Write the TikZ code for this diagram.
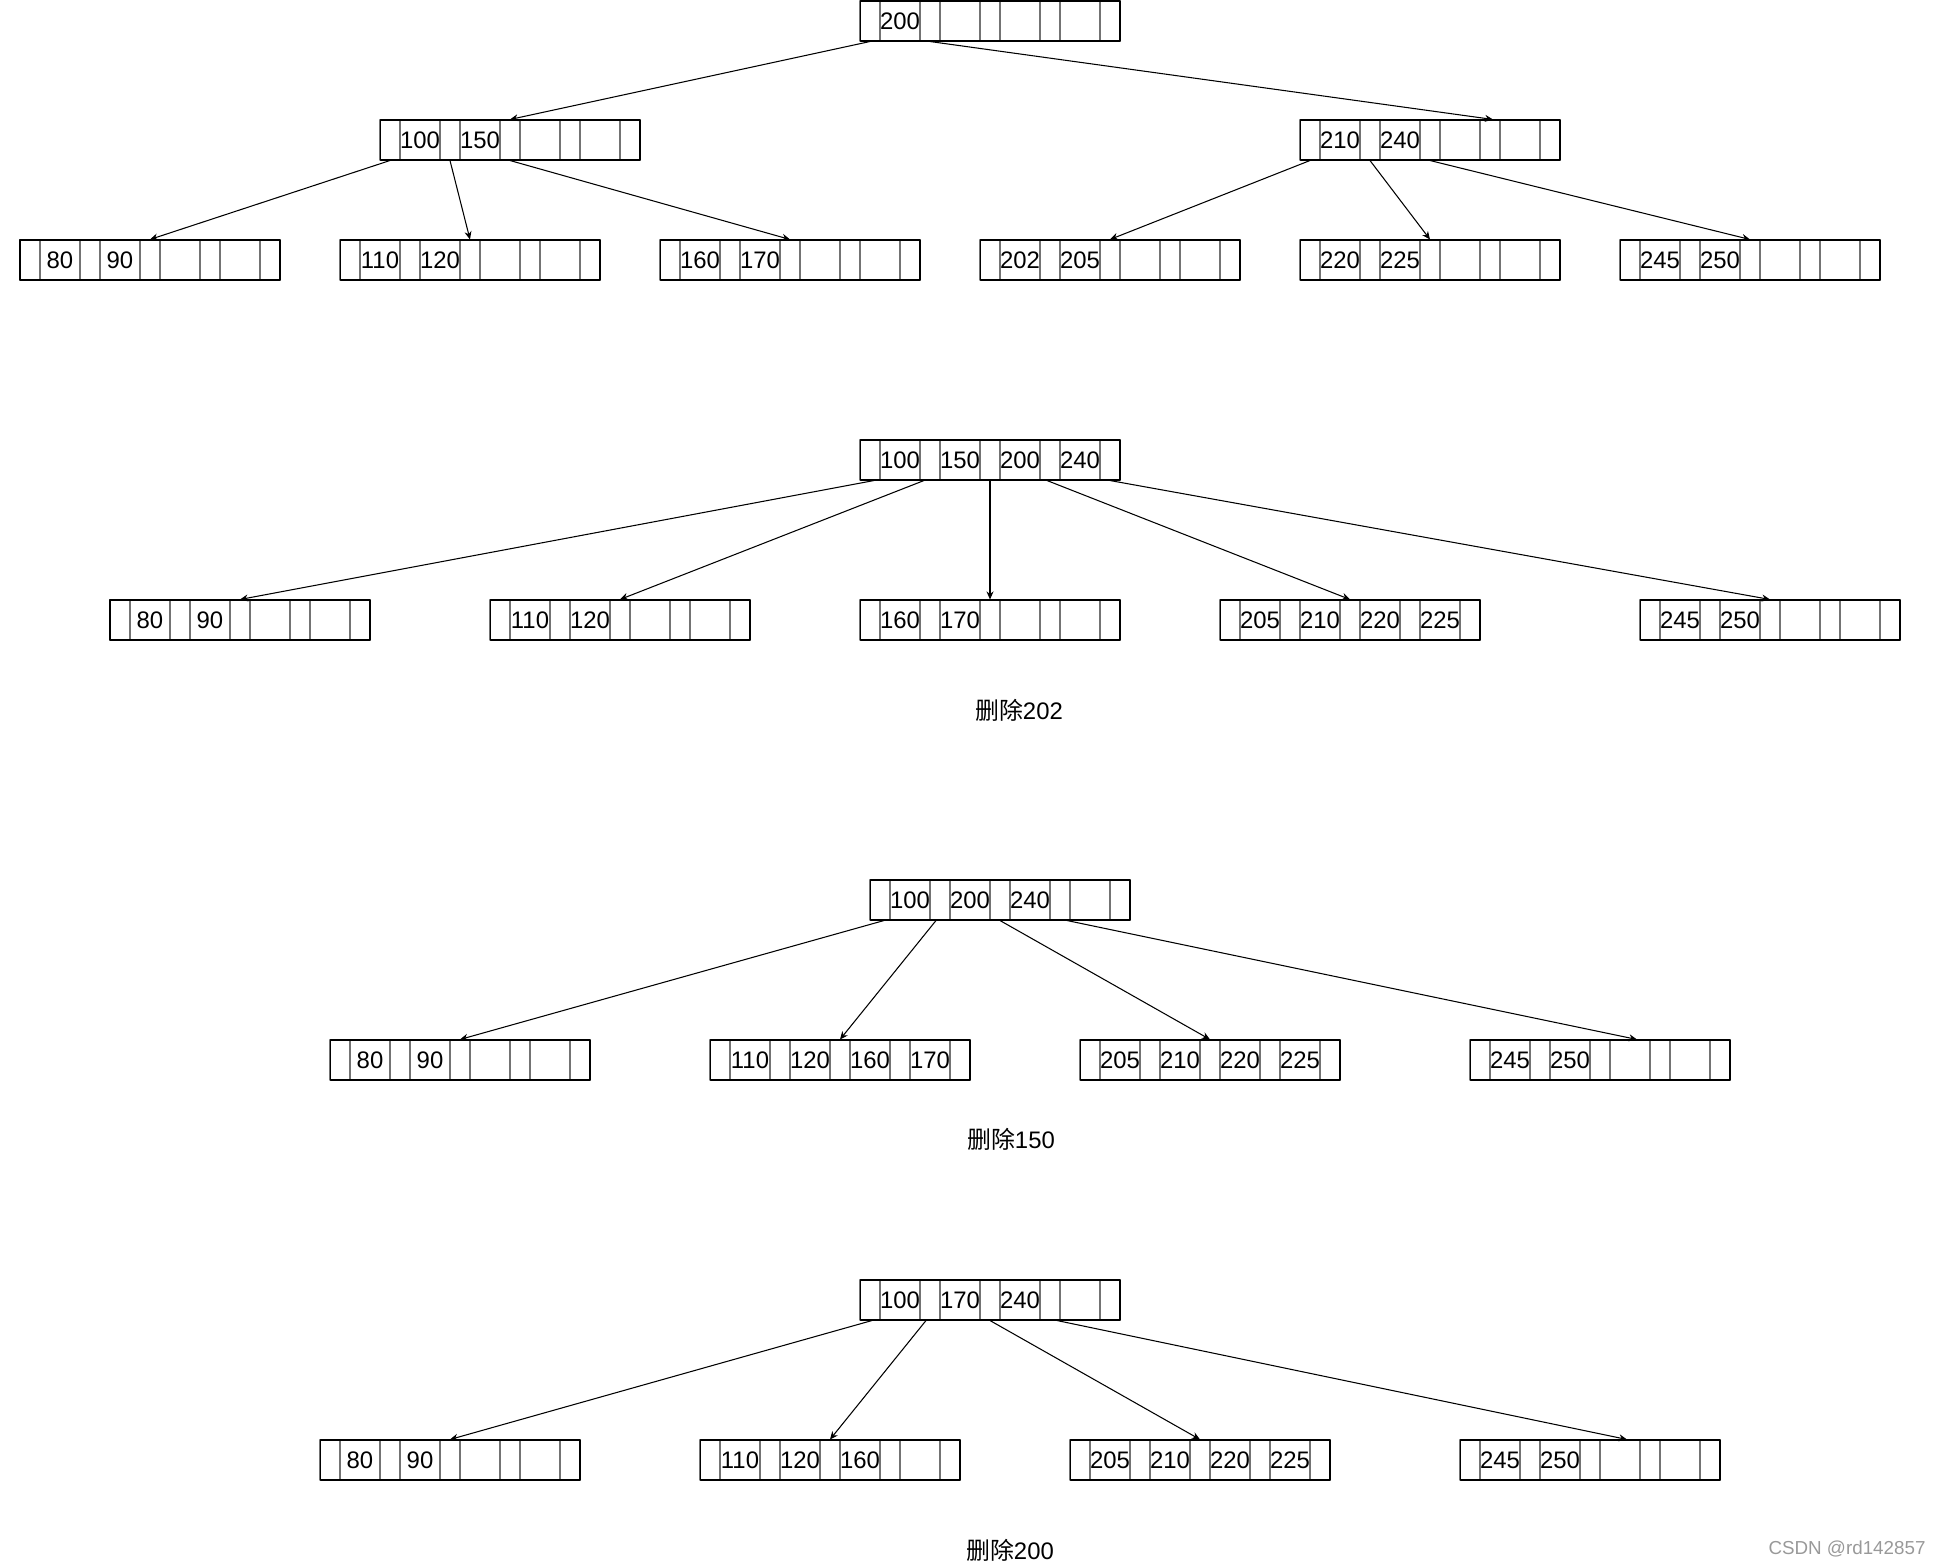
\documentclass[tikz,border=0pt]{standalone}
\usepackage{fontspec}
\setmainfont{Liberation Sans}
\newfontfamily\cjk{Noto Sans CJK SC}
\usetikzlibrary{arrows.meta}

%% one B-tree page: 5 pointer slots + 4 key slots, #2,#3 = top left corner
\newcommand{\bpage}[4]{%
  \foreach \k [count=\i] in {#4} {
    \node[ptr]  (#1-p\i) at ({#2+10+60*(\i-1)},{#3+20}) {};
    \node[slot] (#1-k\i) at ({#2+40+60*(\i-1)},{#3+20}) {\k};
  }
  \node[ptr]   (#1-p5) at ({#2+250},{#3+20}) {};
  \node[frame] (#1)    at ({#2+130},{#3+20}) {};
}

\begin{document}
\begin{tikzpicture}[x=0.02cm, y=-0.02cm, >={Stealth[length=4.6pt, width=4pt]},
  line join=round,
  ptr/.style={draw=black!55, line width=0.6pt, minimum width=0.4cm,
              minimum height=0.8cm, inner sep=0pt},
  slot/.style={ptr, minimum width=0.8cm, font=\fontsize{13.6}{16}\selectfont},
  frame/.style={draw=black, line width=0.6pt, minimum width=5.2cm,
                minimum height=0.8cm, inner sep=0pt},
  link/.style={->, line width=0.6pt},
  caption/.style={font=\fontsize{13.6}{16}\selectfont}]

  \useasboundingbox (0,0) rectangle (1941,1565);

  %% ---- tree before deletion ----
  \bpage{t1r}{860}{1}{200,{},{},{}}
  \bpage{t1a}{380}{120}{100,150,{},{}}
  \bpage{t1b}{1300}{120}{210,240,{},{}}
  \bpage{t1c}{20}{240}{80,90,{},{}}
  \bpage{t1d}{340}{240}{110,120,{},{}}
  \bpage{t1e}{660}{240}{160,170,{},{}}
  \bpage{t1f}{980}{240}{202,205,{},{}}
  \bpage{t1g}{1300}{240}{220,225,{},{}}
  \bpage{t1h}{1620}{240}{245,250,{},{}}

  \draw[link] (t1r-p1.south) -- (t1a-p3.north);
  \draw[link] (t1r-p2.south) -- ([xshift=0.06cm]t1b-p4.north);
  \draw[link] (t1a-p1.south) -- (t1c-p3.north);
  \draw[link] (t1a-p2.south) -- (t1d-p3.north);
  \draw[link] (t1a-p3.south) -- (t1e-p3.north);
  \draw[link] (t1b-p1.south) -- (t1f-p3.north);
  \draw[link] (t1b-p2.south) -- (t1g-p3.north);
  \draw[link] (t1b-p3.south) -- (t1h-p3.north);

  %% ---- after deleting 202 ----
  \bpage{t2r}{860}{440}{100,150,200,240}
  \bpage{t2a}{110}{600}{80,90,{},{}}
  \bpage{t2b}{490}{600}{110,120,{},{}}
  \bpage{t2c}{860}{600}{160,170,{},{}}
  \bpage{t2d}{1220}{600}{205,210,220,225}
  \bpage{t2e}{1640}{600}{245,250,{},{}}

  \draw[link] ([xshift=0.08cm]t2r-p1.south) -- (t2a-p3.north);
  \draw[link] ([xshift=-0.12cm]t2r-p2.south) -- (t2b-p3.north);
  \draw[link] (t2r-p3.south) -- (t2c-p3.north);
  \draw[link] ([xshift=-0.06cm]t2r-p4.south) -- (t2d-p3.north);
  \draw[link] (t2r-p5.south) -- (t2e-p3.north);
  \node[caption] (cap1) at (1019,710) {{\cjk 删除}202};

  %% ---- after deleting 150 ----
  \bpage{t3r}{870}{880}{100,200,240,{}}
  \bpage{t3a}{330}{1040}{80,90,{},{}}
  \bpage{t3b}{710}{1040}{110,120,160,170}
  \bpage{t3c}{1080}{1040}{205,210,220,225}
  \bpage{t3d}{1470}{1040}{245,250,{},{}}

  \draw[link] ([xshift=0.08cm]t3r-p1.south) -- (t3a-p3.north);
  \draw[link] ([xshift=-0.08cm]t3r-p2.south) -- (t3b-p3.north);
  \draw[link] (t3r-p3.south) -- (t3c-p3.north);
  \draw[link] ([xshift=0.14cm]t3r-p4.south) -- ([xshift=0.14cm]t3d-k3.north);
  \node[caption] (cap2) at (1011,1139) {{\cjk 删除}150};

  %% ---- after deleting 200 ----
  \bpage{t4r}{860}{1280}{100,170,240,{}}
  \bpage{t4a}{320}{1440}{80,90,{},{}}
  \bpage{t4b}{700}{1440}{110,120,160,{}}
  \bpage{t4c}{1070}{1440}{205,210,220,225}
  \bpage{t4d}{1460}{1440}{245,250,{},{}}

  \draw[link] ([xshift=0.04cm]t4r-p1.south) -- (t4a-p3.north);
  \draw[link] ([xshift=-0.08cm]t4r-p2.south) -- (t4b-p3.north);
  \draw[link] (t4r-p3.south) -- (t4c-p3.north);
  \draw[link] ([xshift=0.14cm]t4r-p4.south) -- ([xshift=0.14cm]t4d-k3.north);
  \node[caption] (cap3) at (1010,1550) {{\cjk 删除}200};

  %% ---- watermark ----
  \node[black!40, font=\fontsize{10.7}{12}\selectfont] (wm) at (1847,1549) {CSDN @rd142857};

\end{tikzpicture}
\end{document}
